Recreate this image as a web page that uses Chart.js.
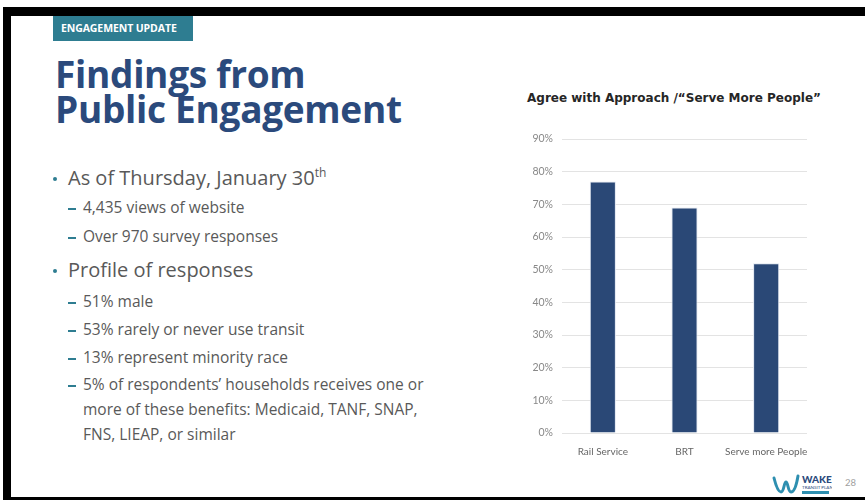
<!DOCTYPE html>
<html lang="en">
<head>
<meta charset="UTF-8">
<title>Findings from Public Engagement</title>
<script src="https://cdn.jsdelivr.net/npm/chart.js"></script>
<style>
    html, body { margin: 0; padding: 0; background: #fff; }
    body { width: 865px; height: 500px; position: relative; overflow: hidden; font-family: 'Open Sans', sans-serif; }
    .frame-top { position: absolute; left: 3px; top: 7px; width: 862px; height: 9px; background: #000; }
    .frame-left { position: absolute; left: 3px; top: 7px; width: 8px; height: 493px; background: #000; }
    .frame-bottom { position: absolute; left: 3px; top: 497px; width: 862px; height: 3px; background: #000; }
    .tag {
        position: absolute; left: 53px; top: 16px; width: 140px; height: 25px;
        background: #2e7d91; color: #fff; font-weight: 700; font-size: 10.5px;
        line-height: 25px; padding-left: 8px; box-sizing: border-box; letter-spacing: -0.1px;
    }
    h1 {
        position: absolute; left: 55px; top: 56px; margin: 0;
        font-size: 37px; line-height: 35px; font-weight: 700; color: #2b4a7c; letter-spacing: -0.3px;
    }
    .line { position: absolute; white-space: nowrap; color: #595959; }
    .l1 { left: 68px; font-size: 20px; }
    .l2 { left: 83px; font-size: 15.5px; }
    .dot { position: absolute; left: 53px; width: 4px; height: 4px; border-radius: 2px; background: #2e7d91; }
    .dash { position: absolute; left: 68px; width: 8px; height: 2px; background: #2e7d91; }
    sup { font-size: 12px; line-height: 0; }
    .chart-title {
        position: absolute; left: 527px; top: 91px; font-family: 'DejaVu Sans', sans-serif;
        font-weight: 700; font-size: 12px; color: #262626; white-space: nowrap;
    }
    .chart-box { position: absolute; left: 505px; top: 80px; width: 360px; height: 380px; }
    .page { position: absolute; left: 845px; top: 477px; font-size: 9.5px; color: #a0a0a0; font-family: 'Lato', sans-serif; }
    .logo { position: absolute; left: 772px; top: 472px; }
</style>
</head>
<body>
<div class="frame-top"></div>
<div class="frame-left"></div>
<div class="frame-bottom"></div>

<div class="tag">ENGAGEMENT UPDATE</div>
<h1>Findings from<br>Public Engagement</h1>

<div class="dot" style="top:177px"></div>
<div class="line l1" style="top:164px">As of Thursday, January 30<sup>th</sup></div>
<div class="dash" style="top:208px"></div>
<div class="line l2" style="top:196px">4,435 views of website</div>
<div class="dash" style="top:237px"></div>
<div class="line l2" style="top:225px">Over 970 survey responses</div>
<div class="dot" style="top:269px"></div>
<div class="line l1" style="top:256px">Profile of responses</div>
<div class="dash" style="top:302px"></div>
<div class="line l2" style="top:290px">51% male</div>
<div class="dash" style="top:330px"></div>
<div class="line l2" style="top:318px">53% rarely or never use transit</div>
<div class="dash" style="top:358px"></div>
<div class="line l2" style="top:346px">13% represent minority race</div>
<div class="dash" style="top:385px"></div>
<div class="line l2" style="top:373px">5% of respondents’ households receives one or</div>
<div class="line l2" style="top:398px">more of these benefits: Medicaid, TANF, SNAP,</div>
<div class="line l2" style="top:423px">FNS, LIEAP, or similar</div>

<div class="chart-title">Agree with Approach /“Serve More People”</div>
<div class="chart-box"><canvas id="agree"></canvas></div>

<svg class="logo" width="60" height="26" viewBox="0 0 60 26">
    <path d="M2 6 C4 14 6 20 9 20 C12 20 12 10 14 10 C16 10 16 20 19 20 C23 20 25 10 26 4" fill="none" stroke="#2e8fb0" stroke-width="3" stroke-linecap="round"/>
    <text x="30" y="11" font-family="Lato" font-weight="900" font-size="10" fill="#2b4a7c">WAKE</text>
    <text x="30" y="17" font-family="Lato" font-size="4.5" fill="#2b4a7c">TRANSIT PLAN</text>
    <rect x="30" y="19" width="27" height="3" fill="#2e8fb0"/>
</svg>
<div class="page">28</div>

<script>
    // Dados do gráfico
    const categorias = ["Rail Service", "BRT", "Serve more People"];
    const valores = [0.77, 0.69, 0.52];

    new Chart(document.getElementById("agree"), {
        type: "bar",
        data: {
            labels: categorias,
            datasets: [{
                label: "Agree with Approach",
                data: valores,
                backgroundColor: "#2a4876",
                borderColor: "#dfe6f0",
                borderWidth: { top: 1, left: 1, right: 1, bottom: 0 },
                barPercentage: 0.32,
                categoryPercentage: 1
            }]
        },
        options: {
            responsive: true,
            maintainAspectRatio: false,
            animation: false,
            layout: { padding: { top: 59, right: 58, bottom: 0, left: 0 } },
            plugins: {
                legend: { display: false },
                tooltip: { enabled: false }
            },
            scales: {
                x: {
                    grid: { display: false },
                    border: { display: false },
                    ticks: { color: "#666", font: { family: "Lato", size: 10 }, padding: 5, maxRotation: 0, autoSkip: false },
                    afterFit: (scale) => { scale.height = 27; }
                },
                y: {
                    min: 0,
                    max: 0.9,
                    ticks: {
                        stepSize: 0.1,
                        color: "#888",
                        padding: 9,
                        font: { family: "Lato", size: 10.5 },
                        callback: (v) => Math.round(v * 100) + "%"
                    },
                    grid: { color: "#e3e3e3", lineWidth: 1, drawTicks: false },
                    border: { display: false },
                    afterFit: (scale) => { scale.width = 57; }
                }
            }
        }
    });
</script>
</body>
</html>
